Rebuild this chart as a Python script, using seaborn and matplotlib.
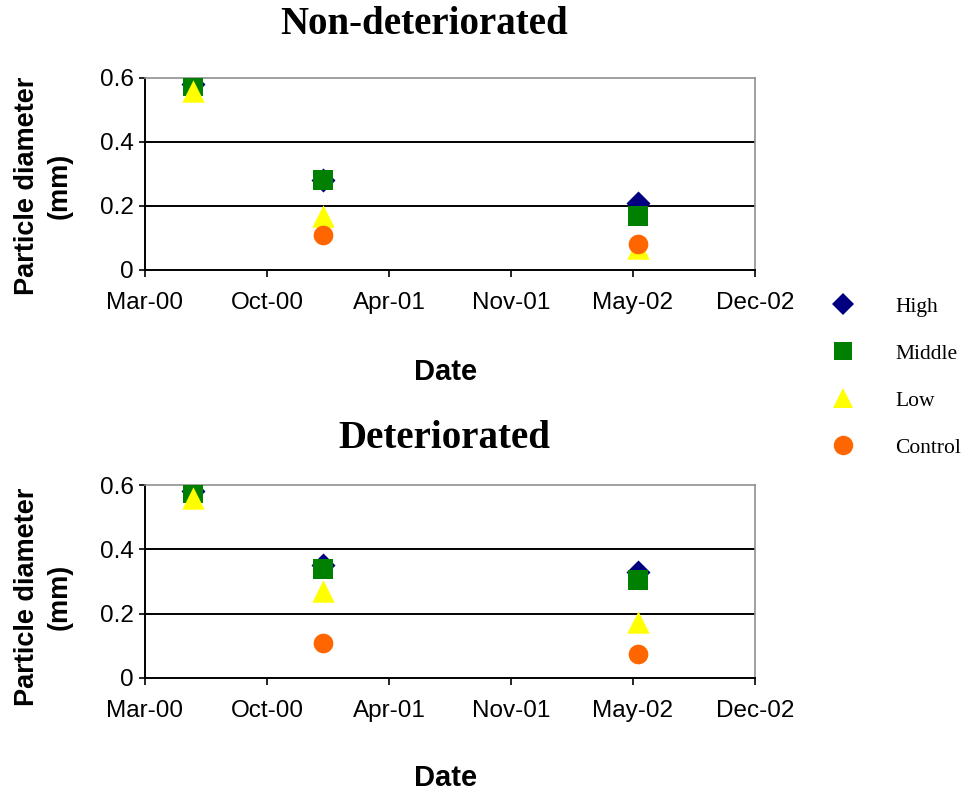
"""Particle diameter over time, non-deteriorated vs deteriorated."""

import matplotlib

matplotlib.use("Agg")

import matplotlib.dates as mdates
import matplotlib.pyplot as plt
import pandas as pd
import seaborn as sns

# sampling dates
dates = pd.to_datetime(["2000-06-01", "2001-01-01", "2002-06-01"])

levels = ["High", "Middle", "Low", "Control"]

# particle diameter (mm), non-deteriorated
non_high = [0.58, 0.28, 0.21]
non_middle = [0.575, 0.28, 0.17]
non_low = [0.56, 0.17, 0.07]
non_control = [None, 0.11, 0.08]

# particle diameter (mm), deteriorated
det_high = [0.58, 0.35, 0.33]
det_middle = [0.575, 0.34, 0.305]
det_low = [0.56, 0.27, 0.175]
det_control = [None, 0.11, 0.075]

panel_titles = ["Non-deteriorated", "Deteriorated"]
x_tick_dates = pd.to_datetime(["2000-03-15", "2000-10-01", "2001-04-19",
                               "2001-11-05", "2002-05-24", "2002-12-10"])
y_ticks = [0, 0.2, 0.4, 0.6]
y_tick_labels = ["0", "0.2", "0.4", "0.6"]

colors = {"High": "#000080", "Middle": "#008000", "Low": "#FFFF00", "Control": "#FF6600"}
markers = {"High": "D", "Middle": "s", "Low": "^", "Control": "o"}
sizes = {"High": 150, "Middle": 190, "Low": 260, "Control": 200}


def build_frame(series):
    rows = []
    for level, values in zip(levels, series):
        for d, v in zip(dates, values):
            if v is not None:
                rows.append({"date": d, "value": v, "level": level})
    return pd.DataFrame(rows)


frames = [
    build_frame([non_high, non_middle, non_low, non_control]),
    build_frame([det_high, det_middle, det_low, det_control]),
]

sns.set_theme(style="white")
plt.rcParams["font.family"] = ["Liberation Sans", "DejaVu Sans"]
plt.rcParams["text.color"] = "black"
plt.rcParams["axes.labelcolor"] = "black"

fig = plt.figure(figsize=(9.66, 7.95), dpi=100)
axes = [
    fig.add_axes([145 / 966, 1 - 270 / 795, 610 / 966, 192 / 795]),
    fig.add_axes([145 / 966, 1 - 678 / 795, 610 / 966, 193 / 795]),
]
title_pos = [(424 / 966, 1 - 24 / 795), (444 / 966, 1 - 439 / 795)]

for ax, df, title, tpos in zip(axes, frames, panel_titles, title_pos):
    for level in levels:
        sub = df[df["level"] == level]
        sns.scatterplot(data=sub, x="date", y="value", ax=ax, color=colors[level],
                        marker=markers[level], s=sizes[level], linewidth=0,
                        legend=False, zorder=3)

    ax.set_xlim(x_tick_dates[0], x_tick_dates[-1])
    ax.set_ylim(0, 0.6)
    ax.set_xticks(mdates.date2num(x_tick_dates))
    ax.xaxis.set_major_formatter(mdates.DateFormatter("%b-%y"))
    ax.set_yticks(y_ticks)
    ax.set_yticklabels(y_tick_labels)

    for y in y_ticks[1:3]:
        ax.axhline(y, color="black", linewidth=1.4, zorder=1)

    for side in ["left", "bottom"]:
        ax.spines[side].set_color("black")
        ax.spines[side].set_linewidth(1.4)
    for side in ["top", "right"]:
        ax.spines[side].set_color("#909090")
        ax.spines[side].set_linewidth(1.2)

    ax.tick_params(axis="x", direction="out", length=5, width=1.2, pad=11,
                   labelsize=17.5, colors="black", bottom=True)
    ax.tick_params(axis="y", direction="out", length=4, width=1.2, pad=4,
                   labelsize=17.5, colors="black", left=True)

    ax.set_xlabel("Date", fontsize=21, fontweight="bold")
    ax.xaxis.label.set_va("center")
    ax.set_ylabel("Particle diameter\n(mm)", fontsize=19.5, fontweight="bold",
                  linespacing=1.35)
    ax.yaxis.label.set_va("center")

    fig.text(tpos[0], tpos[1], title, ha="center", va="center", fontsize=28,
             fontweight="bold", family=["Liberation Serif", "DejaVu Serif"])

axes[0].xaxis.set_label_coords(0.493, -0.53)
axes[1].xaxis.set_label_coords(0.493, -0.518)
axes[0].yaxis.set_label_coords(-0.167, 0.44)
axes[1].yaxis.set_label_coords(-0.167, 0.42)

# legend to the right of both panels
handles = [
    plt.Line2D([], [], linestyle="none", marker=markers[lv], color=colors[lv],
               markersize={"High": 11, "Middle": 13, "Low": 15, "Control": 14}[lv],
               markeredgewidth=0)
    for lv in levels
]
fig.legend(handles, levels, loc="center left", bbox_to_anchor=(811 / 966, 1 - 377 / 795),
           frameon=False, labelspacing=1.25, handletextpad=1.4, borderpad=0,
           prop={"family": "Liberation Serif", "size": 15.5})

fig.savefig("out.png", dpi=100)
